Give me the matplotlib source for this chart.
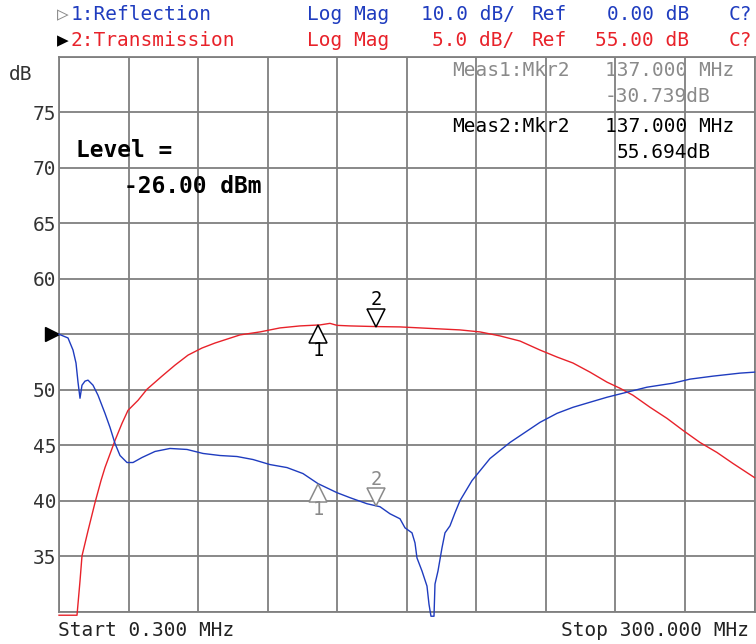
import numpy as np
import matplotlib.pyplot as plt
from matplotlib.transforms import offset_copy

plt.rcParams['font.family'] = ['DejaVu Sans Mono', 'DejaVu Sans']

# === Trace 1: Reflection (Log Mag, 10 dB/div, ref 0 dB) ===
refl_freq = [0.3, 4.18, 6.33, 7.63, 8.49, 9.35, 10.21, 11.50, 12.80, 14.95, 17.11,
             20.12, 22.28, 24.43, 26.59, 29.60, 32.19, 36.06, 41.67, 48.13, 55.46,
             62.35, 69.67, 77.00, 83.89, 91.22, 98.54, 105.44, 111.90, 120.09, 125.69,
             133.02, 138.62, 142.93, 147.24, 149.39, 152.41, 153.70, 154.56, 156.72,
             158.87, 159.73, 160.59, 161.89, 162.32, 163.61, 165.33, 166.63, 168.78,
             170.94, 173.09, 178.26, 186.02, 194.64, 201.10, 207.56, 214.89, 221.78,
             229.11, 236.43, 245.05, 253.67, 264.87, 272.20, 282.11, 293.74, 300.0]
refl_db = [0.0, -0.67, -2.84, -5.19, -8.63, -11.52, -9.17, -8.44, -8.26, -9.17, -10.98,
           -14.24, -16.77, -19.66, -21.83, -23.09, -23.09, -22.19, -21.10, -20.56, -20.74,
           -21.46, -21.83, -22.01, -22.55, -23.46, -24.00, -25.08, -26.89, -28.52, -29.42,
           -30.51, -31.05, -32.32, -33.22, -34.85, -35.75, -37.56, -40.27, -42.62,
           -45.34, -48.59, -50.76, -50.76, -44.97, -42.62, -38.46, -35.75, -34.49,
           -32.14, -29.96, -26.35, -22.37, -19.48, -17.67, -15.86, -14.24, -13.15,
           -12.24, -11.34, -10.43, -9.53, -8.81, -8.08, -7.54, -7.00, -6.82]

# === Trace 2: Transmission (Log Mag, 5 dB/div, ref 55 dB) ===
trans_freq = [0.3, 8.06, 9.35, 10.21, 12.80, 15.81, 18.40, 20.12, 24.43, 27.45, 30.03,
              34.34, 38.22, 44.68, 50.29, 55.89, 61.92, 67.52, 78.29, 86.91, 95.53,
              104.15, 112.77, 117.07, 120.09, 125.69, 137.0, 147.24, 155.86, 164.47,
              173.09, 181.71, 190.33, 198.94, 207.56, 214.89, 221.78, 229.11, 236.43,
              242.03, 247.63, 254.96, 262.28, 269.18, 276.50, 283.83, 290.72, 300.0]
trans_db = [29.71, 29.71, 32.79, 35.05, 37.31, 39.84, 41.83, 43.00, 45.44, 46.98, 48.15,
            49.05, 50.05, 51.23, 52.22, 53.12, 53.76, 54.21, 54.94, 55.21, 55.57,
            55.75, 55.84, 55.98, 55.80, 55.75, 55.69, 55.66, 55.57, 55.48,
            55.39, 55.21, 54.85, 54.39, 53.58, 52.95, 52.41, 51.59, 50.69,
            50.14, 49.51, 48.43, 47.43, 46.35, 45.26, 44.36, 43.37, 42.10]

marker_freq = [112.0, 137.0]
marker_names = ['1', '2']
ref_level = 55.0
y_ticks = [30, 35, 40, 45, 50, 55, 60, 65, 70, 75, 80]
y_labels = ['', '35', '40', '45', '50', '', '60', '65', '70', '75', '']

W, H = 756, 644
def fx(x): return x / W
def fy(y): return 1 - y / H

blue = '#1f3cbf'
red = '#e8222a'
grey = '#8a8a8a'
grid_c = '#7f7f7f'

fig = plt.figure(figsize=(7.56, 6.44), dpi=100)
ax = fig.add_axes([fx(59), fy(612), (754.5 - 59) / W, (612 - 56.5) / H])
ax.set_xlim(0.3, 300)
ax.set_ylim(30, 80)
ax.set_xticks(np.linspace(0.3, 300, 11))
ax.set_xticklabels([])
ax.set_yticks(y_ticks)
ax.set_yticklabels(y_labels)
ax.tick_params(length=0, pad=2, labelsize=14, labelcolor='#333333')
ax.grid(color=grid_c, lw=1.3)
for s in ax.spines.values():
    s.set_color(grid_c)
    s.set_linewidth(1.3)

# blue trace uses its own scale (10 dB/div, ref 0 at the same line)
ax2 = ax.twinx()
ax2.set_ylim(-50, 50)
ax2.axis('off')

ax.plot(trans_freq, trans_db, color=red, lw=1.0, clip_on=False, zorder=3)
ax2.plot(refl_freq, refl_db, color=blue, lw=1.0, clip_on=False, zorder=3)

# === Markers ===
def draw_markers(a, freq, db, col):
    down = offset_copy(a.transData, fig=fig, y=-6.5, units='points')
    up = offset_copy(a.transData, fig=fig, y=6.5, units='points')
    for f, name in zip(marker_freq, marker_names):
        v = np.interp(f, freq, db)
        if name == '1':
            a.plot([f], [v], marker='^', ms=13, mfc='white', mec=col, mew=1.1,
                   transform=down, zorder=5)
            a.annotate(name, (f, v), xytext=(0, -11.5), textcoords='offset points',
                       ha='center', va='top', fontsize=13.5, color=col, zorder=5)
        else:
            a.plot([f], [v], marker='v', ms=13, mfc='white', mec=col, mew=1.1,
                   transform=up, zorder=5)
            a.annotate(name, (f, v), xytext=(0, 12.5), textcoords='offset points',
                       ha='center', va='bottom', fontsize=13.5, color=col, zorder=5)

draw_markers(ax, trans_freq, trans_db, 'black')
draw_markers(ax2, refl_freq, refl_db, grey)

# reference level arrow
ax.plot([0.3], [ref_level], marker='>', ms=10, color='black', clip_on=False,
        transform=offset_copy(ax.transData, fig=fig, x=-5, units='points'), zorder=6)

# === Header ===
fs = 14
fig.text(fx(57), fy(15), '▷', color=grey, fontsize=fs, va='center')
fig.text(fx(71), fy(15), '1:Reflection', color=blue, fontsize=fs, va='center')
fig.text(fx(57), fy(41), '▶', color='black', fontsize=fs, va='center')
fig.text(fx(71), fy(41), '2:Transmission', color=red, fontsize=fs, va='center')
for txt, x in [('Log Mag', 307), ('10.0 dB/', 421), ('Ref', 532), ('0.00 dB', 607), ('C?', 729)]:
    fig.text(fx(x), fy(15), txt, color=blue, fontsize=fs, va='center')
for txt, x in [('Log Mag', 307), ('5.0 dB/', 432), ('Ref', 532), ('55.00 dB', 595), ('C?', 729)]:
    fig.text(fx(x), fy(41), txt, color=red, fontsize=fs, va='center')

fig.text(fx(9), fy(75), 'dB', fontsize=fs, color='#333333', va='center')

# === Marker readouts ===
fig.text(fx(452), fy(71), 'Meas1:Mkr2', color=grey, fontsize=fs, va='center')
fig.text(fx(605), fy(71), '137.000 MHz', color=grey, fontsize=fs, va='center')
fig.text(fx(605), fy(97), '-30.739dB', color=grey, fontsize=fs, va='center')
fig.text(fx(452), fy(127), 'Meas2:Mkr2', color='black', fontsize=fs, va='center')
fig.text(fx(605), fy(127), '137.000 MHz', color='black', fontsize=fs, va='center')
fig.text(fx(617), fy(152), '55.694dB', color='black', fontsize=fs, va='center')

# === Source level ===
fig.text(fx(76), fy(150), 'Level =', fontsize=16.5, fontweight='bold', va='center')
fig.text(fx(124), fy(186), '-26.00 dBm', fontsize=16.5, fontweight='bold', va='center')

# === Sweep ===
fig.text(fx(58), fy(631), 'Start 0.300 MHz', fontsize=fs, color='#222222', va='center')
fig.text(fx(749), fy(631), 'Stop 300.000 MHz', fontsize=fs, color='#222222',
         va='center', ha='right')

fig.savefig('out.png', dpi=100)
